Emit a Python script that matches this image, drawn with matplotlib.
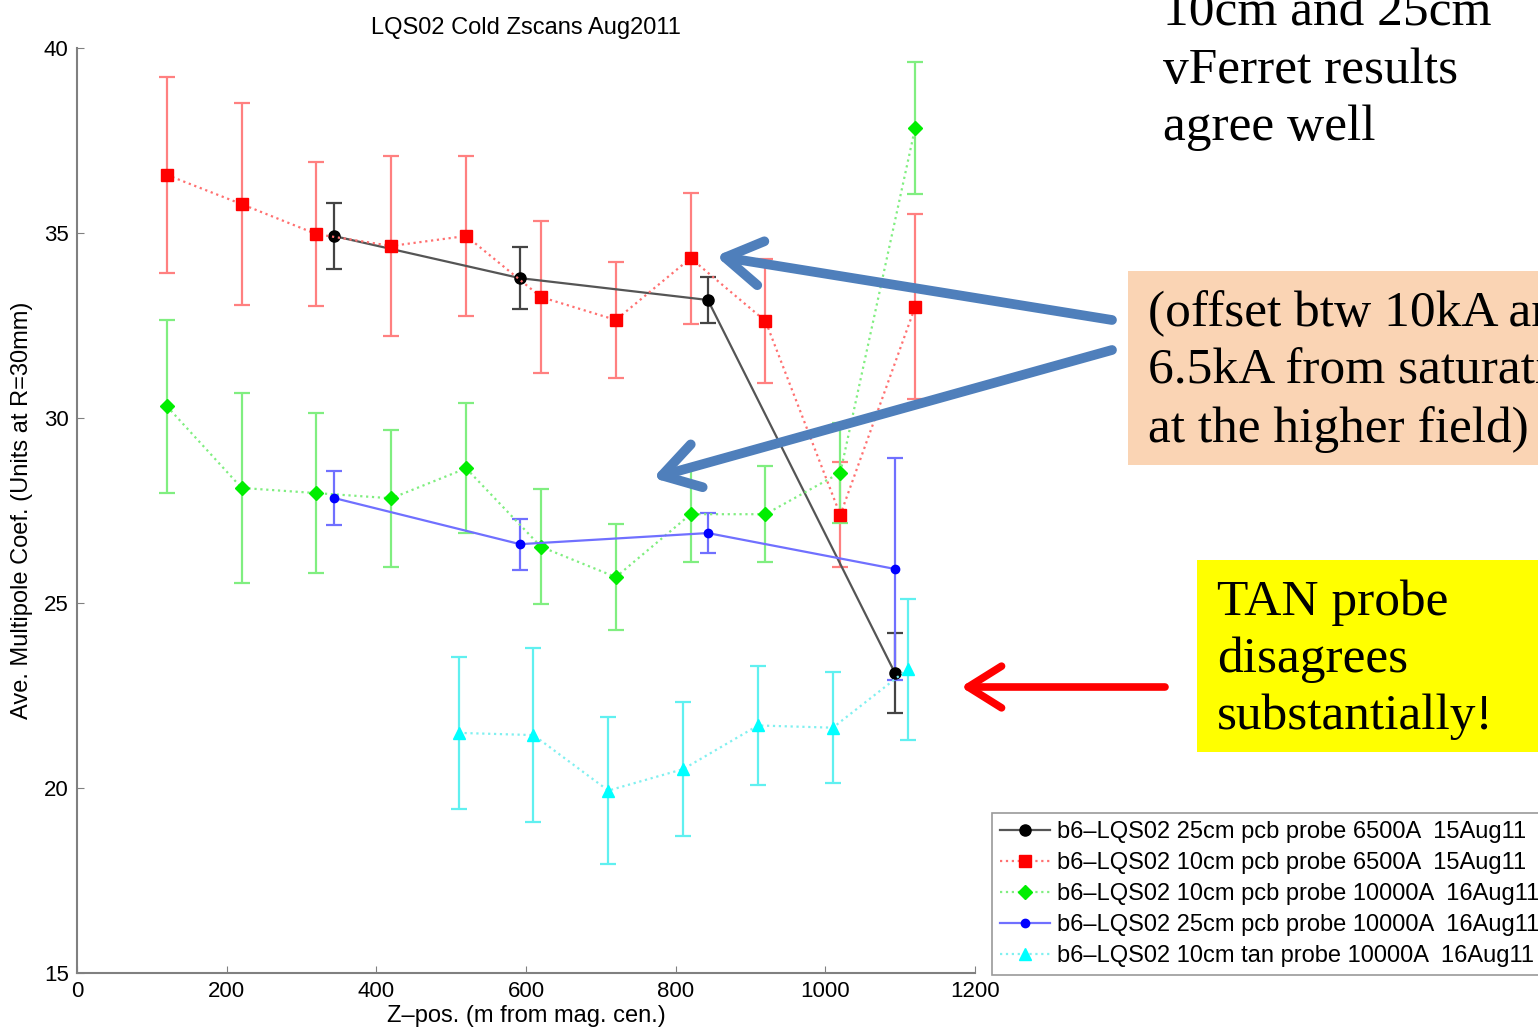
import matplotlib
matplotlib.use("Agg")
import matplotlib.pyplot as plt
from matplotlib.patches import Rectangle, FancyArrowPatch

# ---- data ----
x_10cm = [120, 220, 320, 420, 520, 620, 720, 820, 920, 1020, 1120]
x_25cm = [343, 592, 843, 1093]
x_tan = [510, 610, 710, 810, 910, 1010, 1110]

black_y = [34.92, 33.78, 33.19, 23.11]
black_e = [0.88, 0.84, 0.63, 1.08]

red_y = [36.57, 35.78, 34.97, 34.65, 34.92, 33.27, 32.65, 34.32, 32.62, 27.38, 33.0]
red_e = [2.65, 2.73, 1.95, 2.43, 2.16, 2.05, 1.57, 1.77, 1.68, 1.42, 2.5]

green_y = [30.32, 28.11, 27.97, 27.83, 28.64, 26.52, 25.70, 27.40, 27.40, 28.52, 37.84]
green_e = [2.34, 2.57, 2.16, 1.85, 1.76, 1.56, 1.43, 1.3, 1.3, 1.35, 1.78]

blue_y = [27.84, 26.59, 26.89, 25.92]
blue_e = [0.73, 0.69, 0.53, 3.0]

cyan_y = [21.49, 21.43, 19.93, 20.51, 21.69, 21.63, 23.21]
cyan_e = [2.05, 2.35, 1.98, 1.82, 1.6, 1.5, 1.9]

labels = [
    "b6\u2013LQS02 25cm pcb probe 6500A  15Aug11",
    "b6\u2013LQS02 10cm pcb probe 6500A  15Aug11",
    "b6\u2013LQS02 10cm pcb probe 10000A  16Aug11",
    "b6\u2013LQS02 25cm pcb probe 10000A  16Aug11",
    "b6\u2013LQS02 10cm tan probe 10000A  16Aug11",
]
x_ticks = [0, 200, 400, 600, 800, 1000, 1200]
y_ticks = [15, 20, 25, 30, 35, 40]

W, H = 1538, 1033
fig = plt.figure(figsize=(W / 100, H / 100), dpi=100)
plt.rcParams['font.family'] = ['Liberation Sans', 'DejaVu Sans']
ax = fig.add_axes([77 / W, 1 - 973 / H, (975 - 77) / W, (973 - 48) / H])

series = [
    (x_25cm, black_y, black_e, 'k', '#555555', '#444444', '-', 'o', 8),
    (x_10cm, red_y, red_e, 'r', '#ff7070', '#ff8080', ':', 's', 8),
    (x_10cm, green_y, green_e, '#00ee00', '#80ee80', '#80ee80', ':', 'D', 7),
    (x_25cm, blue_y, blue_e, 'b', '#7070ff', '#7070ff', '-', 'o', 6),
    (x_tan, cyan_y, cyan_e, 'cyan', '#80f0f0', '#60f0f0', ':', '^', 9),
]
for (xs, ys, es, mc, lc, ec, ls, mk, ms), lab in zip(series, labels):
    ax.errorbar(xs, ys, yerr=es, fmt='none', ecolor=ec, elinewidth=1.6,
                capsize=6, capthick=1.6, zorder=2)
    ax.plot(xs, ys, linestyle=ls, color=lc, lw=1.6, marker=mk, ms=ms,
            mfc=mc, mec=mc, label=lab, zorder=3)

ax.set_xlim(0, 1200)
ax.set_ylim(15, 40)
ax.set_xticks(x_ticks)
ax.set_yticks(y_ticks)
for s in ['top', 'right']:
    ax.spines[s].set_visible(False)
for s in ['left', 'bottom']:
    ax.spines[s].set_color('#808080')
    ax.spines[s].set_linewidth(1.5)
ax.tick_params(direction='in', length=5, color='#808080', labelsize=16, pad=6)
ax.set_title("LQS02 Cold Zscans Aug2011", fontsize=17, pad=10)
ax.set_xlabel("Z\u2013pos. (m from mag. cen.)", fontsize=17, labelpad=2)
ax.set_ylabel("Ave. Multipole Coef. (Units at R=30mm)", fontsize=17, labelpad=8)

leg = ax.legend(loc='upper left', bbox_to_anchor=(992 / W, 1 - 813 / H),
                bbox_transform=fig.transFigure, borderaxespad=0, fontsize=17,
                frameon=True, fancybox=False, edgecolor='#808080',
                handlelength=2.1, handletextpad=0.3, labelspacing=0.38,
                borderpad=0.35)
leg.get_frame().set_linewidth(1.2)

# ---- annotations (figure pixels) ----
def fy(y):
    return 1 - y / H

serif = ['Liberation Serif', 'DejaVu Serif']
fs_note = 37
fig.text(1163 / W, fy(25), "10cm and 25cm", fontsize=fs_note, family=serif, va='baseline')
fig.text(1163 / W, fy(83), "vFerret results", fontsize=fs_note, family=serif, va='baseline')
fig.text(1163 / W, fy(140), "agree well", fontsize=fs_note, family=serif, va='baseline')

fig.patches.append(Rectangle((1128 / W, fy(465)), (W - 1128) / W, (465 - 271) / H,
                             transform=fig.transFigure, facecolor='#fad4b4',
                             edgecolor='none', zorder=0))
for yb, t in [(326, "(offset btw 10kA and"), (384, "6.5kA from saturation"),
              (442, "at the higher field)")]:
    fig.text(1148 / W, fy(yb), t, fontsize=fs_note, family=serif, va='baseline')

fig.patches.append(Rectangle((1197 / W, fy(752)), (W - 1197) / W, (752 - 560) / H,
                             transform=fig.transFigure, facecolor='#ffff00',
                             edgecolor='none', zorder=0))
for yb, t in [(615, "TAN probe"), (672, "disagrees"), (729, "substantially!")]:
    fig.text(1217 / W, fy(yb), t, fontsize=fs_note, family=serif, va='baseline')

arrow_blue = dict(arrowstyle='->,head_length=1.3,head_width=0.8', color='#4f7fbb',
                  lw=7, mutation_scale=20, shrinkA=0, shrinkB=0)
fig.add_artist(FancyArrowPatch((1112, H - 320), (716, H - 256), transform=None, **arrow_blue))
fig.add_artist(FancyArrowPatch((1112, H - 350), (653, H - 478), transform=None, **arrow_blue))
arrow_red = dict(arrowstyle='->,head_length=1.2,head_width=0.75', color='#ff0000',
                 lw=5.5, mutation_scale=20, shrinkA=0, shrinkB=0)
fig.add_artist(FancyArrowPatch((1165, H - 687), (961, H - 687), transform=None, **arrow_red))

fig.savefig("out.png", dpi=100)
